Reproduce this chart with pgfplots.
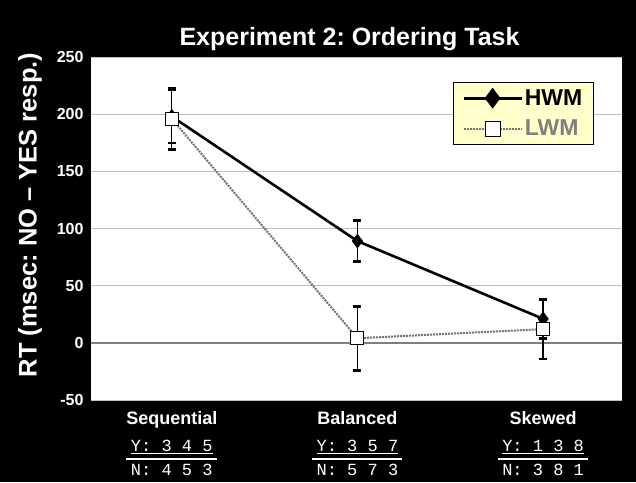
\documentclass[border=0pt]{standalone}
\usepackage{pgfplots}
\pgfplotsset{compat=1.18}
\usepackage{fontspec}
\setmainfont{Liberation Sans}
\setmonofont{Liberation Mono}
\frenchspacing
\setlength{\arrayrulewidth}{1.3pt}
\definecolor{legfill}{HTML}{FFFFCC}
\newcommand{\catlab}[3]{\begin{tabular}{@{}c@{}}{\fontsize{18}{20}\selectfont\bfseries #1}\\[4pt]\ttfamily\underline{#2}\\\hline\makebox[90pt]{\ttfamily #3}\end{tabular}}
\begin{document}
\begin{tikzpicture}[x=1pt,y=1pt]
\fill[black] (-91,-82) rectangle (545,400);
\useasboundingbox (-91,-82) rectangle (545,400);
\node[text=white,font=\fontsize{25}{28}\selectfont\bfseries] at (258.5,361) {Experiment 2: Ordering Task};
\node[text=white,font=\fontsize{25.5}{28}\selectfont\bfseries,rotate=90] at (-61,185) {RT (msec: NO -- YES resp.)};
\begin{axis}[
  at={(0,0)}, anchor=south west,
  scale only axis, width=531pt, height=343pt,
  xmin=-0.435, xmax=2.425, ymin=-50, ymax=250,
  axis background/.style={fill=white},
  axis line style={draw=none},
  ytick={-50,0,50,100,150,200,250},
  xtick={0,1,2},
  xticklabels={{\catlab{Sequential}{Y: 3 4 5}{N: 4 5 3}},{\catlab{Balanced}{Y: 3 5 7}{N: 5 7 3}},{\catlab{Skewed}{Y: 1 3 8}{N: 3 8 1}}},
  major tick length=0pt,
  ymajorgrids, grid style={black!25, line width=1pt},
  /pgf/number format/assume math mode=true,
  yticklabel style={font=\fontsize{16}{18}\selectfont\bfseries, text=white, xshift=-4pt},
  xticklabel style={text=white, inner sep=0pt, yshift=-8pt, font=\fontsize{17}{23}\selectfont},
  legend style={at={(0.947,0.927)}, anchor=north east, fill=legfill, draw=black, line width=1pt,
    font=\fontsize{23}{25}\selectfont\bfseries, row sep=9pt, inner xsep=9pt, inner ysep=5pt},
  legend cell align=left,
]
\draw[black!50, line width=1.5pt] (axis cs:-0.435,0) -- (axis cs:2.425,0);
\addplot[black, line width=2.6pt, mark=diamond*, mark size=7pt, mark options={solid, fill=black, line width=0.5pt},
  legend image code/.code={\draw[mark repeat=2,mark phase=2,mark size=10pt] plot coordinates {(0pt,0pt) (29pt,0pt) (58pt,0pt)};},
  error bars/.cd, y dir=both, y explicit, error bar style={black, line width=1.4pt, solid},
  error mark options={rotate=90, mark size=4pt, line width=2.5pt, black}]
  coordinates {(0,198) +- (0,23) (1,89) +- (0,18) (2,21) +- (0,17)};
\addlegendentry{HWM}
\addplot[black!55, line width=2pt, densely dotted, mark=square*, mark size=6.5pt, mark options={solid, fill=white, draw=black, line width=1pt},
  legend image code/.code={\draw[mark repeat=2,mark phase=2,mark size=7.5pt] plot coordinates {(0pt,0pt) (29pt,0pt) (58pt,0pt)};},
  error bars/.cd, y dir=both, y explicit, error bar style={black, line width=1.4pt, solid},
  error mark options={rotate=90, mark size=4pt, line width=2.5pt, black}]
  coordinates {(0,196) +- (0,27) (1,4) +- (0,28) (2,12) +- (0,26)};
\addlegendentry{\textcolor{black!50}{LWM}}
\end{axis}
\end{tikzpicture}
\end{document}
